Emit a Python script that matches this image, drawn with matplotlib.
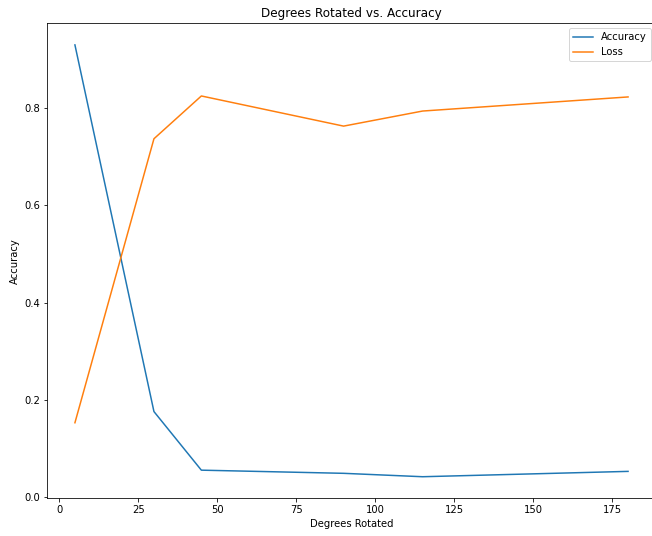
import matplotlib
matplotlib.use('Agg')
import matplotlib.pyplot as plt

degrees = [5, 30, 45, 90, 115, 180]
accuracy = [0.930, 0.176, 0.0555, 0.049, 0.042, 0.053]
loss = [0.153, 0.737, 0.825, 0.763, 0.794, 0.823]

fig = plt.figure(figsize=(652 / 72, 536 / 72), dpi=72)
ax = fig.add_subplot(111)
# axes run slightly past the right edge, as in the cropped original
fig.subplots_adjust(left=0.0725, right=1.0057, bottom=0.0703, top=0.9565)

ax.plot(degrees, accuracy, label='Accuracy')
ax.plot(degrees, loss, label='Loss')
ax.set_title('Degrees Rotated vs. Accuracy')
ax.set_xlabel('Degrees Rotated')
ax.set_ylabel('Accuracy')
ax.legend()

fig.savefig('out.png', dpi=72)
